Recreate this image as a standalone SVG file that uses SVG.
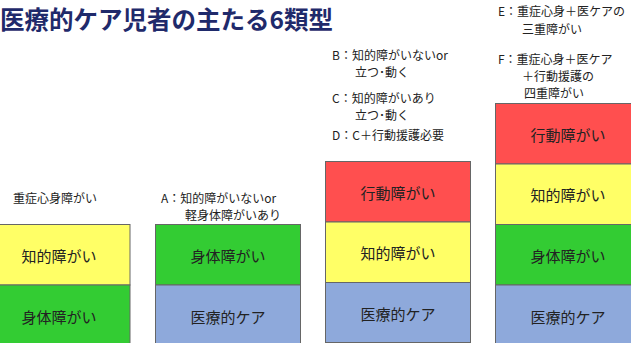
<svg xmlns="http://www.w3.org/2000/svg" width="631" height="343" viewBox="0 0 631 343">
<style>
.t{font-family:"Noto Sans CJK JP","Noto Sans CJK SC",sans-serif;fill:#222;}
.lab{font-size:12px;}
.box{font-size:15px;text-anchor:middle;dominant-baseline:central;}
.bx{stroke:#666;stroke-width:1;}
.r{fill:#FF4F4F;}.y{fill:#FFFF66;}.g{fill:#33CC33;}.b{fill:#8EA9DB;}
.title{font-family:"Noto Sans CJK JP","Noto Sans CJK SC",sans-serif;font-weight:bold;font-size:24.5px;fill:#1F2A6B;}
</style>
<rect width="631" height="343" fill="#fff"/>
<text class="title" x="0" y="29">医療的ケア児者の主たる6類型</text>

<g id="col1">
<text class="t lab" x="13" y="203">重症心身障がい</text>
<rect class="bx y" x="-10" y="224.5" width="140" height="60.5"/>
<text class="t box" x="59" y="255">知的障がい</text>
<rect class="bx g" x="-10" y="285" width="140" height="65"/>
<text class="t box" x="59" y="316">身体障がい</text>
</g>

<g id="col2">
<text class="t lab" x="161" y="203">A：知的障がいないor</text>
<text class="t lab" x="185" y="220">軽身体障がいあり</text>
<rect class="bx g" x="155.5" y="224.5" width="145" height="60.5"/>
<text class="t box" x="228" y="255">身体障がい</text>
<rect class="bx b" x="155.5" y="285" width="145" height="65"/>
<text class="t box" x="228" y="316">医療的ケア</text>
</g>

<g id="col3">
<text class="t lab" x="332" y="60">B：知的障がいないor</text>
<text class="t lab" x="355" y="77">立つ･動く</text>
<text class="t lab" x="332" y="103">C：知的障がいあり</text>
<text class="t lab" x="355" y="120">立つ･動く</text>
<text class="t lab" x="332" y="140">D：C＋行動援護必要</text>
<rect class="bx r" x="325.5" y="161.5" width="145" height="60.5"/>
<text class="t box" x="398" y="192">行動障がい</text>
<rect class="bx y" x="325.5" y="222" width="145" height="60.5"/>
<text class="t box" x="398" y="252">知的障がい</text>
<rect class="bx b" x="325.5" y="282.5" width="145" height="60"/>
<text class="t box" x="398" y="313">医療的ケア</text>
</g>

<g id="col4">
<text class="t lab" x="498" y="16">E：重症心身＋医ケアの</text>
<text class="t lab" x="522" y="34">三重障がい</text>
<text class="t lab" x="498" y="64">F：重症心身＋医ケア</text>
<text class="t lab" x="522" y="81">＋行動援護の</text>
<text class="t lab" x="524" y="98">四重障がい</text>
<rect class="bx r" x="495.5" y="103.5" width="145" height="60.5"/>
<text class="t box" x="568" y="134">行動障がい</text>
<rect class="bx y" x="495.5" y="164" width="145" height="60.5"/>
<text class="t box" x="568" y="194">知的障がい</text>
<rect class="bx g" x="495.5" y="224.5" width="145" height="60.5"/>
<text class="t box" x="568" y="255">身体障がい</text>
<rect class="bx b" x="495.5" y="285" width="145" height="65"/>
<text class="t box" x="568" y="316">医療的ケア</text>
</g>
</svg>
